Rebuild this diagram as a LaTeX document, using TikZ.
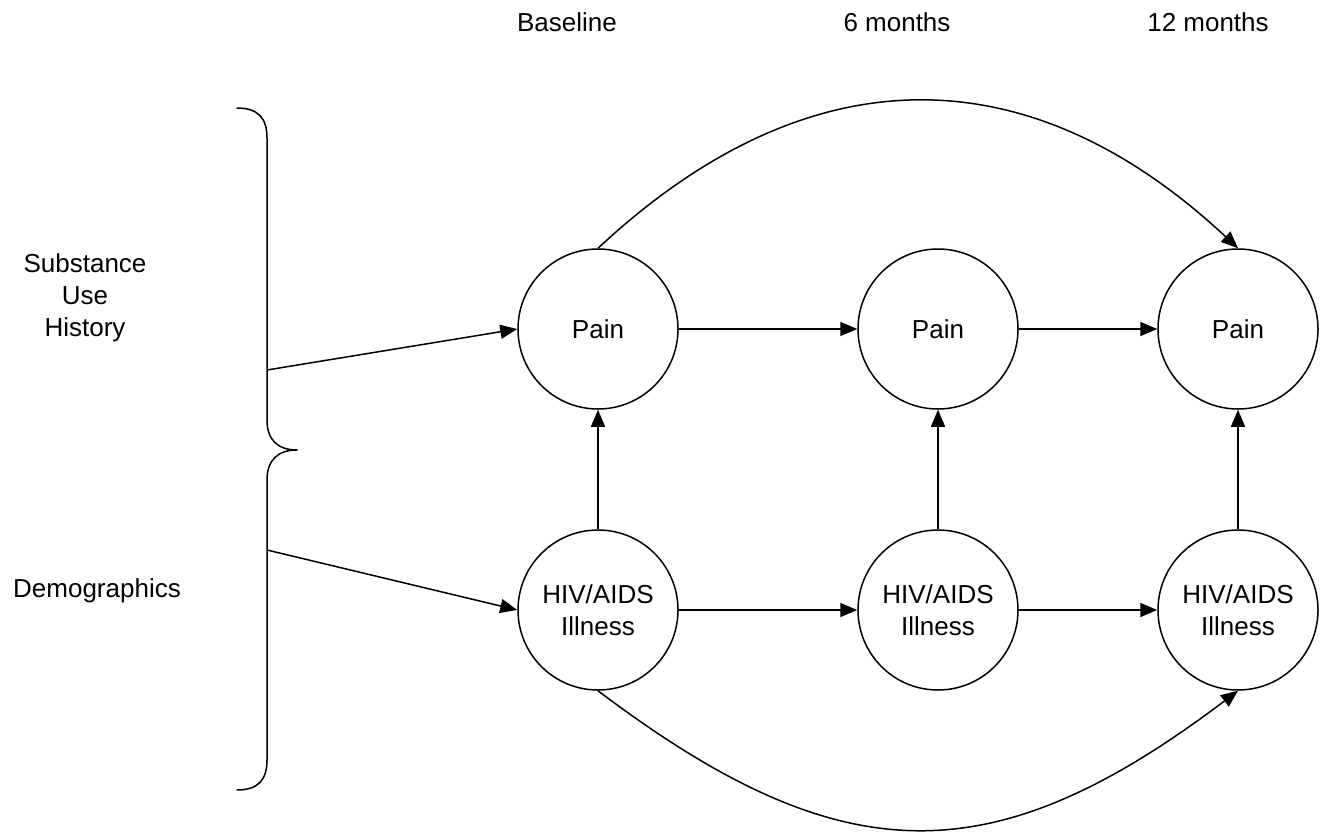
\documentclass[tikz,border=0pt]{standalone}
\usepackage{fontspec}
\setmainfont{Liberation Sans}
\usetikzlibrary{arrows.meta}
\begin{document}
\begin{tikzpicture}[x=1pt,y=-1pt,
  every node/.style={font=\fontsize{26}{32}\selectfont},
  state/.style={circle,draw,line width=1.5pt,minimum size=160pt,inner sep=0pt,align=center},
  lbl/.style={anchor=base,inner sep=0pt},
  conn/.style={line width=1.5pt,-{Triangle[length=17pt,width=14pt]}},
  bracestyle/.style={line width=1.5pt,line cap=round,line join=round}]
\useasboundingbox (0,0) rectangle (1331,833);

% time labels
\node[lbl] (tb) at (567,31) {Baseline};
\node[lbl] (t6) at (897,31) {6 months};
\node[lbl] (t12) at (1208,31) {12 months};

% left labels
\node[align=center,inner sep=0pt] (sub) at (85,298) {Substance\\Use\\History};
\node[lbl] (dem) at (97,597) {Demographics};

% states
\node[state] (p1) at (598,329) {Pain};
\node[state] (p2) at (938,329) {Pain};
\node[state] (p3) at (1238,329) {Pain};
\node[state] (h1) at (598,610) {HIV/AIDS\\Illness};
\node[state] (h2) at (938,610) {HIV/AIDS\\Illness};
\node[state] (h3) at (1238,610) {HIV/AIDS\\Illness};

% brace
\draw[bracestyle] (237,108) .. controls (258,108) and (267,118) .. (267,138)
  -- (267,420) .. controls (267,440) and (278,450) .. (297,450)
  .. controls (278,450) and (267,460) .. (267,480)
  -- (267,760) .. controls (267,780) and (258,790) .. (237,790);
\coordinate (b1) at (267,370);
\coordinate (b2) at (267,550);

% connectors
\draw[conn] (b1) -- (p1.west);
\draw[conn] (b2) -- (h1.west);
\draw[conn] (p1.east) -- (p2.west);
\draw[conn] (p2.east) -- (p3.west);
\draw[conn] (h1.east) -- (h2.west);
\draw[conn] (h2.east) -- (h3.west);
\draw[conn] (h1.north) -- (p1.south);
\draw[conn] (h2.north) -- (p2.south);
\draw[conn] (h3.north) -- (p3.south);
\draw[conn] (p1.north) .. controls +(210,-196) and +(-210,-196) .. (p3.north);
\draw[conn] (h1.south) .. controls +(245,185) and +(-245,185) .. (h3.south);
\end{tikzpicture}
\end{document}
